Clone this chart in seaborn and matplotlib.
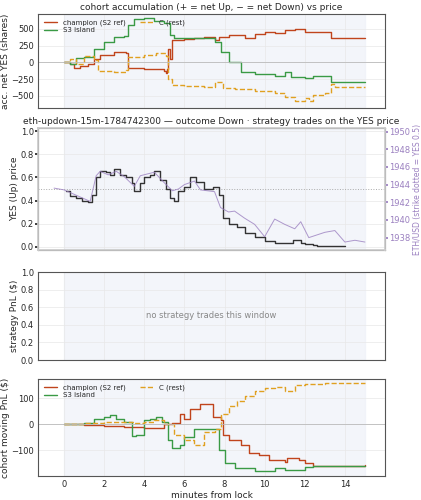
import matplotlib
matplotlib.use("Agg")
import matplotlib.pyplot as plt
import seaborn as sns
import pandas as pd

sns.set_theme(style="whitegrid")
plt.rcParams['font.family'] = ['DejaVu Sans']

champ_acc_t = [0,0.3,0.5,0.8,1.2,1.5,1.8,2.5,3.1,3.2,4,5,5.1,5.15,5.2,5.3,5.4,6,6.5,7,7.5,7.7,8.2,9,9.5,10,10.5,11,11.5,12,13,13.3,15]
champ_acc_v = [0,-30,-80,-60,-30,50,110,150,140,-80,-100,-130,-160,-100,200,50,330,350,360,380,330,380,400,360,420,450,430,480,500,450,450,370,370]
s3_acc_t = [0,0.3,0.6,1,1.5,2,2.5,3,3.2,3.5,4,4.5,5,5.3,5.5,6,7,7.5,7.8,8.2,8.8,9.5,10.5,11,11.3,12,12.4,13,13.3,15]
s3_acc_v = [0,-30,60,80,200,300,380,390,550,640,660,620,580,400,360,360,360,300,150,0,-150,-180,-200,-150,-220,-230,-200,-200,-290,-290]
c_acc_t = [0,0.3,0.6,1,1.5,1.7,2.5,3.1,3.2,4,4.6,5.1,5.2,5.4,6,7,7.5,7.9,8.5,9.5,10.5,11,11.5,12,12.2,12.4,13,13.3,13.5,15]
c_acc_v = [0,50,-20,100,30,-130,-150,-120,80,110,140,100,-250,-340,-350,-360,-300,-380,-400,-420,-450,-520,-570,-530,-580,-480,-450,-320,-360,-360]

yes_t = [0.1,0.3,0.6,0.9,1.2,1.4,1.6,1.8,2.1,2.3,2.5,2.8,3.1,3.4,3.5,3.8,4.0,4.3,4.5,4.8,5.1,5.3,5.5,5.7,6,6.3,6.6,7,7.4,7.7,7.9,8.2,8.6,9,9.5,10,10.5,11,11.4,11.8,12,12.4,12.6,14]
yes_v = [0.48,0.44,0.42,0.40,0.39,0.45,0.60,0.66,0.65,0.62,0.67,0.62,0.60,0.55,0.48,0.55,0.60,0.62,0.66,0.58,0.50,0.42,0.40,0.48,0.52,0.60,0.56,0.50,0.52,0.45,0.25,0.20,0.17,0.12,0.08,0.05,0.03,0.03,0.06,0.03,0.02,0.01,0.005,0.005]
eth_t = [-0.5,0,0.5,1,1.3,1.6,1.8,2.2,2.6,3,3.5,3.8,4.5,5,5.4,5.7,6,6.5,6.8,7.5,7.8,8.2,8.5,9,9.5,10,10.5,11,11.5,11.8,12.2,13,13.5,14,14.5,15]
eth_v = [1943.6,1943.4,1942.9,1942.4,1942.1,1945.0,1945.5,1945.1,1945.5,1944.9,1943.8,1945.0,1945.4,1944.2,1943.3,1943.5,1944.0,1944.4,1943.4,1943.2,1941.4,1940.9,1941.0,1940.2,1939.5,1938.1,1940.1,1939.5,1939.0,1939.8,1938.0,1938.6,1938.8,1937.5,1937.7,1937.5]

champ_pnl_t = [0,1,2,3,4,5,5.4,5.8,6,6.3,6.8,7.4,7.8,7.9,8.2,8.8,9.2,9.7,10.2,11,11.1,11.7,12,12.4,15]
champ_pnl_v = [0,-2,-8,-10,-15,0,5,40,20,60,80,30,15,-40,-60,-80,-110,-120,-140,-145,-130,-140,-150,-160,-158]
s3_pnl_t = [0,1,1.5,2,2.3,2.6,3,3.4,3.6,4,4.3,4.6,4.9,5.2,5.4,5.8,6,6.5,7.5,7.7,8,8.5,9.5,10.5,11,12,12.4,15]
s3_pnl_v = [0,5,20,30,35,20,10,-45,-40,15,20,30,10,-60,-90,-80,-50,-20,-20,-100,-150,-170,-180,-170,-175,-165,-160,-160]
c_pnl_t = [0,1,2,3,3.5,4,4.5,5,5.5,6,6.5,7,7.5,7.8,8.2,8.6,9,9.5,10,10.5,11,11.5,12,13,15]
c_pnl_v = [0,3,8,10,5,10,15,0,-40,-60,-80,-30,-20,40,70,90,110,130,140,145,130,150,155,158,158]

RED, GREEN, ORANGE, PURPLE = "#c0441c", "#3a9a45", "#e0a020", "#9b80c0"

fig = plt.figure(figsize=(4.21, 5.0), dpi=100)
L, W = 38/421, 347/421
ax1 = fig.add_axes([L, 1-108/500, W, 94/500])
ax2 = fig.add_axes([L, 1-250/500, W, 122/500])
ax3 = fig.add_axes([L, 1-360/500, W, 88/500])
ax4 = fig.add_axes([L, 1-476/500, W, 97/500])

for ax in (ax1, ax2, ax3, ax4):
    ax.set_facecolor("white")
    ax.axvspan(0, 15, color="#eef1f8", alpha=0.7, zorder=0)
    ax.set_xlim(-1.3, 16)
    ax.set_xticks([0, 2, 4, 6, 8, 10, 12, 14])
    ax.tick_params(labelsize=6, length=2, pad=1)
    ax.grid(True, color="#e8e8e8", lw=0.5)
    for s in ax.spines.values():
        s.set_color("#555555"); s.set_linewidth(0.8)
for ax in (ax1, ax2, ax3):
    ax.set_xticklabels([])

def step(ax, t, v, color, label, ls="-"):
    df = pd.DataFrame({"t": t, "v": v})
    ax.step(df["t"], df["v"], where="post", color=color, lw=1.0, ls=ls, label=label)

step(ax1, champ_acc_t, champ_acc_v, RED, "champion (S2 ref)")
step(ax1, s3_acc_t, s3_acc_v, GREEN, "S3 island")
step(ax1, c_acc_t, c_acc_v, ORANGE, "C (rest)", "--")
ax1.axhline(0, color="#bbbbbb", lw=0.6)
ax1.set_ylim(-680, 720)
ax1.set_yticks([-500, -250, 0, 250, 500])
ax1.set_ylabel("acc. net YES (shares)", fontsize=6.5, labelpad=1)
ax1.set_title("cohort accumulation (+ = net Up, − = net Down) vs price", fontsize=6.5, pad=3)
leg = ax1.legend(loc="upper left", ncol=2, fontsize=5, frameon=False, handlelength=2, borderpad=0.3, labelspacing=0.2)

ax2.step(yes_t, yes_v, where="post", color="#333333", lw=1.0, zorder=3)
ax2.axhline(0.5, color="#aaaaaa", lw=0.7, ls=":")
ax2.set_ylim(-0.03, 1.03)
ax2.set_yticks([0, 0.2, 0.4, 0.6, 0.8, 1.0])
ax2.set_ylabel("YES (Up) price", fontsize=6.5, labelpad=1)
ax2.set_title("eth-updown-15m-1784742300 — outcome Down · strategy trades on the YES price", fontsize=6.5, pad=3)
ax2r = ax2.twinx()
sns.lineplot(x=eth_t, y=eth_v, ax=ax2r, color=PURPLE, lw=0.7, alpha=0.8)
ax2r.set_ylim(1936.6, 1950.4)
ax2r.set_yticks([1938, 1940, 1942, 1944, 1946, 1948, 1950])
ax2r.grid(False)
ax2r.tick_params(labelsize=6, length=2, pad=1, colors=PURPLE)
ax2r.set_ylabel("ETH/USD (strike dotted = YES 0.5)", fontsize=5.5, color=PURPLE, labelpad=2)

ax3.set_ylim(0, 1)
ax3.set_yticks([0, 0.2, 0.4, 0.6, 0.8, 1.0])
ax3.set_ylabel("strategy PnL ($)", fontsize=6.5, labelpad=1)
ax3.text(0.5, 0.5, "no strategy trades this window", transform=ax3.transAxes, ha="center", va="center", fontsize=6, color="#888888")

step(ax4, champ_pnl_t, champ_pnl_v, RED, "champion (S2 ref)")
step(ax4, s3_pnl_t, s3_pnl_v, GREEN, "S3 island")
step(ax4, c_pnl_t, c_pnl_v, ORANGE, "C (rest)", "--")
ax4.axhline(0, color="#bbbbbb", lw=0.6)
ax4.set_ylim(-200, 175)
ax4.set_yticks([-100, 0, 100])
ax4.set_yticklabels(["−100", "0", "100"])
ax4.set_ylabel("cohort moving PnL ($)", fontsize=6.5, labelpad=1)
ax4.set_xlabel("minutes from lock", fontsize=6.5, labelpad=1)
ax4.legend(loc="upper left", ncol=2, fontsize=5, frameon=False, handlelength=2, borderpad=0.3, labelspacing=0.2, columnspacing=2)

fig.savefig("out.png", dpi=100)
